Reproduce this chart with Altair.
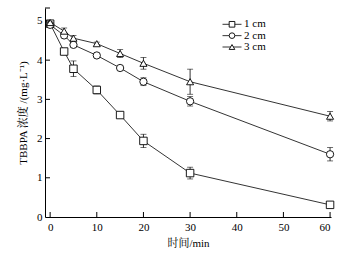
import altair as alt
import pandas as pd

# ---- data ----
times = [0, 3, 5, 10, 15, 20, 30, 60]
series = ["1 cm", "2 cm", "3 cm"]
conc_1cm = [4.93, 4.22, 3.78, 3.24, 2.60, 1.94, 1.12, 0.31]
conc_2cm = [4.90, 4.63, 4.39, 4.12, 3.80, 3.45, 2.95, 1.60]
conc_3cm = [4.96, 4.74, 4.56, 4.42, 4.17, 3.92, 3.45, 2.57]
err_1cm = [0.03, 0.05, 0.20, 0.10, 0.05, 0.17, 0.15, 0.03]
err_2cm = [0.05, 0.05, 0.05, 0.05, 0.05, 0.10, 0.12, 0.17]
err_3cm = [0.04, 0.08, 0.07, 0.04, 0.10, 0.15, 0.32, 0.12]
x_ticks = [0, 10, 20, 30, 40, 50, 60]
y_ticks = [0, 1, 2, 3, 4, 5]
x_domain = [-1.1, 60.2]
y_domain = [0, 5.33]

rows = []
for name, cs, es in zip(series, [conc_1cm, conc_2cm, conc_3cm], [err_1cm, err_2cm, err_3cm]):
    for t, c, e in zip(times, cs, es):
        rows.append({"t": t, "c": c, "lo": c - e, "hi": c + e, "s": name})
df = pd.DataFrame(rows)
legend_df = pd.DataFrame({"s": series})

FONT = "Liberation Serif, Noto Serif CJK SC, Noto Sans CJK SC"
W, H = 286, 209
PAD_L, PAD_T = 45, 8

xs = alt.Scale(domain=x_domain, nice=False, zero=False)
ys = alt.Scale(domain=y_domain, nice=False, zero=False)
shape_scale = alt.Scale(domain=series, range=["square", "circle", "triangle-up"])

X = alt.X("t:Q", scale=xs, axis=alt.Axis(values=x_ticks, title="时间/min", ticks=False,
                                          labelPadding=4, titlePadding=5, format="d"))
Y = alt.Y("c:Q", scale=ys, axis=alt.Axis(values=y_ticks, title="TBBPA 浓度 /(mg·L⁻¹)",
                                          ticks=False, labelPadding=3, titlePadding=8, format="d"))

base = alt.Chart(df)

lines = base.mark_line(color="black", strokeWidth=0.8).encode(x=X, y=Y, detail="s:N")

err_rule = base.mark_rule(color="black", strokeWidth=0.8).encode(
    x=alt.X("t:Q", scale=xs), y=alt.Y("lo:Q", scale=ys), y2="hi:Q")
cap_lo = base.mark_tick(color="black", orient="horizontal", size=6, thickness=0.8).encode(
    x=alt.X("t:Q", scale=xs), y=alt.Y("lo:Q", scale=ys))
cap_hi = base.mark_tick(color="black", orient="horizontal", size=6, thickness=0.8).encode(
    x=alt.X("t:Q", scale=xs), y=alt.Y("hi:Q", scale=ys))

points = base.mark_point(filled=True, fill="white", stroke="black", strokeWidth=0.9, opacity=1).encode(
    x=alt.X("t:Q", scale=xs), y=alt.Y("c:Q", scale=ys),
    shape=alt.Shape("s:N", scale=shape_scale, legend=None),
    size=alt.Size("s:N", scale=alt.Scale(domain=series, range=[56, 50, 60]), legend=None),
)

tick_df_y = pd.DataFrame({"v": y_ticks[1:] + [y_domain[1]]})
tick_df_x = pd.DataFrame({"v": x_ticks})
yt = alt.Chart(tick_df_y).mark_rule(color="black", strokeWidth=1).encode(
    y=alt.Y("v:Q", scale=ys), x=alt.value(0), x2=alt.value(5))
xt = alt.Chart(tick_df_x).mark_rule(color="black", strokeWidth=1).encode(
    x=alt.X("v:Q", scale=xs), y=alt.value(H), y2=alt.value(H - 5))

main = alt.layer(lines, err_rule, cap_lo, cap_hi, points, yt, xt)

# ---- legend drawn as marks (line - symbol - label) ----
LY = alt.Y("s:N", scale=alt.Scale(type="point", domain=series, range=[16.3, 39],
                                  paddingOuter=0, padding=0), axis=None)
leg_lines = alt.Chart(legend_df).mark_rule(color="black", strokeWidth=0.8).encode(
    y=LY, x=alt.value(177.5), x2=alt.value(196.5))
leg_pts = alt.Chart(legend_df).mark_point(filled=True, fill="white", stroke="black",
                                          strokeWidth=0.9, opacity=1).encode(
    y=LY, x=alt.value(187),
    shape=alt.Shape("s:N", scale=shape_scale, legend=None),
    size=alt.value(32))
leg_text = alt.Chart(legend_df).mark_text(align="left", baseline="middle", font=FONT,
                                          fontSize=11, color="black").encode(
    y=LY, x=alt.value(199), text="s:N")
legend = alt.layer(leg_lines, leg_pts, leg_text)

chart = alt.layer(main, legend).resolve_scale(y="independent").properties(
    width=W, height=H, background="white",
    autosize=alt.AutoSizeParams(type="none"),
    padding={"left": PAD_L, "top": PAD_T, "right": 360 - PAD_L - W, "bottom": 254 - PAD_T - H},
).configure_view(stroke=None).configure_axis(
    domainColor="black", domainWidth=1, grid=False,
    labelFont=FONT, labelFontSize=11, labelColor="black",
    titleFont=FONT, titleFontSize=11, titleColor="black", titleFontWeight="normal",
)

chart.save("out.html", embed_options={"renderer": "svg", "actions": False})
